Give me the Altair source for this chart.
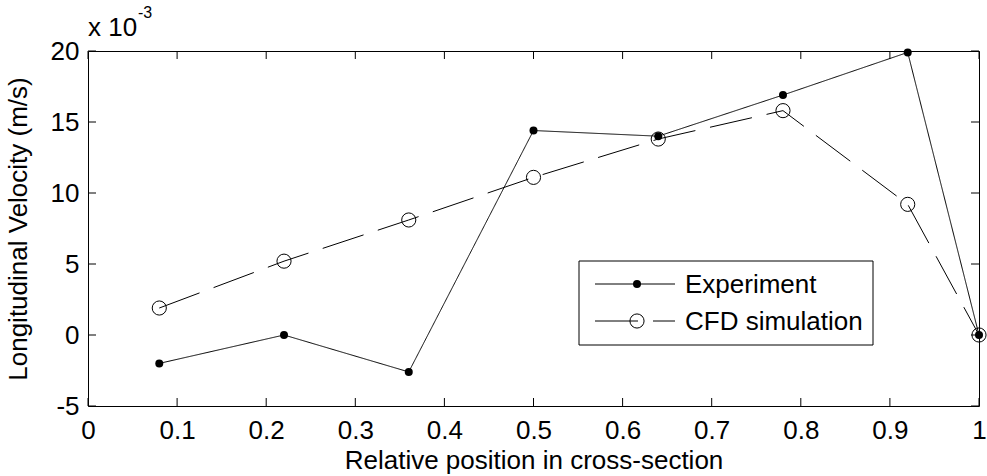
import altair as alt
import pandas as pd

# Measured longitudinal velocity (units of 1e-3 m/s) along the cross-section
positions = [0.08, 0.22, 0.36, 0.50, 0.64, 0.78, 0.92, 1.00]
experiment = [-2.0, 0.0, -2.6, 14.4, 14.0, 16.9, 19.9, 0.0]
cfd = [1.9, 5.2, 8.1, 11.1, 13.8, 15.8, 9.2, 0.0]
series_names = ["Experiment", "CFD simulation"]

x_ticks = [0, 0.1, 0.2, 0.3, 0.4, 0.5, 0.6, 0.7, 0.8, 0.9, 1]
y_ticks = [-5, 0, 5, 10, 15, 20]
exponent_base = ["x 10"]
exponent_power = ["-3"]

FONT = "Liberation Sans"
FS = 26
W, H = 891, 355
TICK_LEN = 8
DASH = [43, 15]
DOT_SIZE = 64
RING_SIZE = 200

df = pd.DataFrame({
    "position": positions + positions,
    "velocity": experiment + cfd,
    "series": [series_names[0]] * len(positions) + [series_names[1]] * len(positions),
})

x_scale = alt.Scale(domain=[0, 1], nice=False, zero=False)
y_scale = alt.Scale(domain=[-5, 20], nice=False, zero=False)
x_axis = alt.Axis(
    values=x_ticks, labelExpr="'' + datum.value",
    title="Relative position in cross-section",
    labelPadding=11, titlePadding=4,
)
y_axis = alt.Axis(
    values=y_ticks, labelExpr="'' + datum.value",
    title="Longitudinal Velocity (m/s)",
    labelPadding=9, titlePadding=19,
)


def x_enc(field="position"):
    return alt.X(f"{field}:Q", scale=x_scale, axis=x_axis)


def y_enc(field="velocity"):
    return alt.Y(f"{field}:Q", scale=y_scale, axis=y_axis)


base = alt.Chart(df)

lines = base.mark_line(color="black", strokeWidth=1).encode(
    x=x_enc(),
    y=y_enc(),
    strokeDash=alt.StrokeDash(
        "series:N",
        scale=alt.Scale(domain=series_names, range=[[1, 0], DASH]),
        legend=None,
    ),
)

cfd_points = base.transform_filter(
    alt.datum.series == series_names[1]
).mark_point(shape="circle", size=RING_SIZE, stroke="black", strokeWidth=1,
             fill="transparent", filled=False, opacity=1).encode(x=x_enc(), y=y_enc())

exp_points = base.transform_filter(
    alt.datum.series == series_names[0]
).mark_point(shape="circle", size=DOT_SIZE, color="black", strokeWidth=1,
             filled=True, opacity=1).encode(x=x_enc(), y=y_enc())

# Inward tick marks on all four sides of the box
xt = alt.Chart(pd.DataFrame({"position": x_ticks}))
yt = alt.Chart(pd.DataFrame({"velocity": y_ticks}))
tick_layers = [
    xt.mark_rule(color="black", strokeWidth=1).encode(
        x=x_enc(), y=alt.value(H - TICK_LEN), y2=alt.value(H)),
    xt.mark_rule(color="black", strokeWidth=1).encode(
        x=x_enc(), y=alt.value(0), y2=alt.value(TICK_LEN)),
    yt.mark_rule(color="black", strokeWidth=1).encode(
        y=y_enc(), x=alt.value(0), x2=alt.value(TICK_LEN)),
    yt.mark_rule(color="black", strokeWidth=1).encode(
        y=y_enc(), x=alt.value(W - TICK_LEN), x2=alt.value(W)),
]

# Legend box with line samples, markers and labels
LEG_LEFT, LEG_RIGHT, LEG_TOP, LEG_BOTTOM = 491, 785, 210, 294
SAMPLE_X0, SAMPLE_X1 = 507, 587
ROW_Y = [233, 270]
LABEL_X = 597

legend_box = alt.Chart(pd.DataFrame({"label": series_names[:1]})).mark_rect(
    fill="white", stroke="black", strokeWidth=1
).encode(x=alt.value(LEG_LEFT), x2=alt.value(LEG_RIGHT),
         y=alt.value(LEG_TOP), y2=alt.value(LEG_BOTTOM))

legend_layers = [legend_box]
for i, name in enumerate(series_names):
    entry = alt.Chart(pd.DataFrame({"label": [name]}))
    ry = ROW_Y[i]
    dashed = i == 1
    legend_layers.append(
        entry.mark_rule(color="black", strokeWidth=1,
                        strokeDash=DASH if dashed else [1, 0]).encode(
            x=alt.value(SAMPLE_X0), x2=alt.value(SAMPLE_X1), y=alt.value(ry))
    )
    if dashed:
        marker = entry.mark_point(shape="circle", size=RING_SIZE, stroke="black",
                                  strokeWidth=1, fill="transparent", filled=False,
                                  opacity=1)
    else:
        marker = entry.mark_point(shape="circle", size=DOT_SIZE, color="black",
                                  strokeWidth=1, filled=True, opacity=1)
    legend_layers.append(
        marker.encode(x=alt.value((SAMPLE_X0 + SAMPLE_X1) / 2 + 2), y=alt.value(ry))
    )
    legend_layers.append(
        entry.mark_text(align="left", baseline="middle", font=FONT, fontSize=FS,
                        color="black").encode(
            text="label:N", x=alt.value(LABEL_X), y=alt.value(ry + 1))
    )

exp_text = alt.Chart(pd.DataFrame({"t": exponent_base})).mark_text(
    align="left", baseline="alphabetic", font=FONT, fontSize=FS, color="black"
).encode(text="t:N", x=alt.value(0), y=alt.value(-15))

pow_text = alt.Chart(pd.DataFrame({"t": exponent_power})).mark_text(
    align="left", baseline="alphabetic", font=FONT, fontSize=16, color="black"
).encode(text="t:N", x=alt.value(50), y=alt.value(-33))

chart = alt.layer(
    lines, cfd_points, exp_points, *tick_layers, *legend_layers, exp_text, pow_text
).properties(
    width=W,
    height=H,
    padding={"left": 88, "top": 51, "right": 8, "bottom": 70},
    autosize=alt.AutoSizeParams(type="none"),
    background="white",
).configure_view(
    stroke="black", strokeWidth=1
).configure_axis(
    domain=False, ticks=False, grid=False,
    labelFont=FONT, labelFontSize=FS, labelColor="black",
    titleFont=FONT, titleFontSize=FS, titleColor="black", titleFontWeight="normal",
    labelFlush=False, labelOverlap=False,
)

chart.save("out.html", embed_options={"renderer": "svg", "actions": False})
